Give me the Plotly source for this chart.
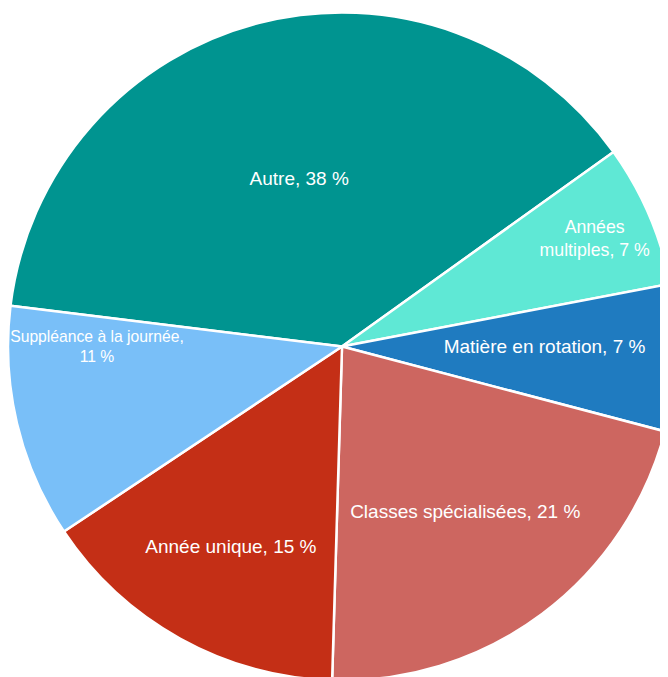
import plotly.graph_objects as go

categories = ["Autre", "Années multiples", "Matière en rotation", "Classes spécialisées", "Année unique", "Suppléance à la journée"]
values = [38.2, 6.9, 7.1, 21.4, 15.2, 11.3]
labels_text = ["Autre, 38 %", "Années<br>multiples, 7 %", "Matière en rotation, 7 %",
               "Classes spécialisées, 21 %", "Année unique, 15 %", "Suppléance à la journée,<br>11 %"]
colors = ["#009490", "#5fe8d5", "#1f7bc0", "#cd6660", "#c42f16", "#79bff8"]

fig = go.Figure(go.Pie(
    labels=categories,
    values=values,
    text=labels_text,
    textinfo="text",
    texttemplate="%{text}",
    textposition="inside",
    insidetextorientation="horizontal",
    sort=False,
    direction="clockwise",
    rotation=277,
    marker=dict(colors=colors, line=dict(color="white", width=2.5)),
    textfont=dict(family="Liberation Sans, Arial, sans-serif", size=19, color="white"),
    hoverinfo="none",
    showlegend=False,
))
fig.update_layout(
    width=668, height=677,
    margin=dict(l=0, r=0, t=0, b=0),
    paper_bgcolor="white",
)
fig.write_html("out.html")
